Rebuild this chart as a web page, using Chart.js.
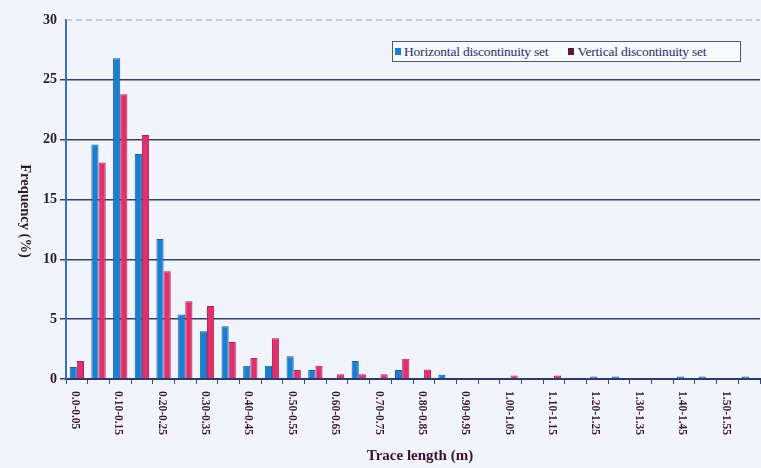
<!DOCTYPE html>
<html>
<head>
<meta charset="utf-8">
<script src="https://cdn.jsdelivr.net/npm/chart.js@4"></script>
<style>
  html, body { margin: 0; padding: 0; background: #f1f5fb; }
  #wrap { position: relative; width: 761px; height: 468px; }
  #legend {
    position: absolute; left: 392px; top: 41px; width: 347px; height: 19px;
    border: 1px solid #55556a; background: #f8fafe;
    font: 13.5px "Liberation Serif", serif; color: #2b2f6b;
    display: flex; align-items: center; white-space: nowrap; letter-spacing: -0.2px;
  }
  #legend span.box { display: inline-block; width: 6px; height: 7px; margin: 0 3px 0 2px; }
</style>
</head>
<body>
<div id="wrap">
  <canvas id="histChart" width="761" height="468"></canvas>
  <div id="legend">
    <span class="box" style="background:#1a7fd0"></span><span>Horizontal discontinuity set</span>
    <span class="box" style="background:#5a1a40;margin-left:20px"></span><span>Vertical discontinuity set</span>
  </div>
</div>
<script>
// Trace length classes (m)
const categories = [
  "0.0-0.05", "0.05-0.10", "0.10-0.15", "0.15-0.20", "0.20-0.25", "0.25-0.30",
  "0.30-0.35", "0.35-0.40", "0.40-0.45", "0.45-0.50", "0.50-0.55", "0.55-0.60",
  "0.60-0.65", "0.65-0.70", "0.70-0.75", "0.75-0.80", "0.80-0.85", "0.85-0.90",
  "0.90-0.95", "0.95-1.00", "1.00-1.05", "1.05-1.10", "1.10-1.15", "1.15-1.20",
  "1.20-1.25", "1.25-1.30", "1.30-1.35", "1.35-1.40", "1.40-1.45", "1.45-1.50",
  "1.50-1.55", "1.55-1.60"
];
// labels printed under the axis (every second class)
const tickLabels = [
  "0.0-0.05", "0.10-0.15", "0.20-0.25", "0.30-0.35", "0.40-0.45", "0.50-0.55",
  "0.60-0.65", "0.70-0.75", "0.80-0.85", "0.90-0.95", "1.00-1.05", "1.10-1.15",
  "1.20-1.25", "1.30-1.35", "1.40-1.45", "1.50-1.55"
];
const horizontal = [
  1.0, 19.6, 26.8, 18.8, 11.7, 5.4, 4.0, 4.4, 1.1, 1.1, 1.9, 0.75,
  0, 1.5, 0, 0.75, 0, 0.35, 0, 0, 0, 0, 0, 0,
  0.2, 0.2, 0, 0, 0.2, 0.2, 0, 0.2
];
const vertical = [
  1.5, 18.1, 23.8, 20.4, 9.0, 6.5, 6.1, 3.1, 1.75, 3.4, 0.75, 1.1,
  0.4, 0.4, 0.4, 1.7, 0.8, 0, 0, 0, 0.3, 0, 0.3, 0,
  0, 0, 0, 0, 0, 0, 0, 0
];
const yTicks = [0, 5, 10, 15, 20, 25, 30];

const serif = '"Liberation Serif", "DejaVu Serif", serif';

// custom labels: rotated clockwise, plus axis titles and dashed top line
const extras = {
  id: 'extras',
  afterDraw(chart) {
    const ctx = chart.ctx;
    const xs = chart.scales.x, ys = chart.scales.y;
    ctx.save();
    // dashed line at the top of the scale
    const yTop = ys.getPixelForValue(30);
    ctx.strokeStyle = '#7fa8e0';
    ctx.lineWidth = 1;
    ctx.setLineDash([6, 4]);
    ctx.beginPath();
    ctx.moveTo(xs.left, yTop);
    ctx.lineTo(xs.right, yTop);
    ctx.stroke();
    ctx.setLineDash([]);

    ctx.font = 'bold 11.5px ' + serif;
    ctx.fillStyle = '#3b1733';
    ctx.textAlign = 'left';
    ctx.textBaseline = 'middle';
    tickLabels.forEach(lab => {
      const i = categories.indexOf(lab);
      if (i < 0) return;
      const x = xs.getPixelForTick(i);
      ctx.save();
      ctx.translate(x - 2, xs.top + 12);
      ctx.rotate(Math.PI / 2);
      ctx.fillText(lab, 0, 0);
      ctx.restore();
    });

    // x title
    ctx.font = 'bold 15px ' + serif;
    ctx.fillStyle = '#3a1030';
    ctx.textAlign = 'center';
    ctx.fillText('Trace length (m)', 420, 456);

    // y title, also rotated clockwise
    ctx.save();
    ctx.translate(25, 211);
    ctx.rotate(Math.PI / 2);
    ctx.font = 'bold 14.5px ' + serif;
    ctx.fillStyle = '#2a1a2a';
    ctx.fillText('Frequency (%)', 0, 0);
    ctx.restore();
    ctx.restore();
  }
};

new Chart(document.getElementById('histChart').getContext('2d'), {
  type: 'bar',
  data: {
    labels: categories,
    datasets: [
      { label: 'Horizontal discontinuity set', data: horizontal,
        backgroundColor: '#1a7fd0', borderColor: '#1560a8', borderWidth: 1 },
      { label: 'Vertical discontinuity set', data: vertical,
        backgroundColor: '#e0306e', borderColor: '#b81f55', borderWidth: 1 }
    ]
  },
  options: {
    responsive: false,
    animation: false,
    layout: { padding: { top: 20, right: 1, left: 0, bottom: 0 } },
    plugins: { legend: { display: false }, tooltip: { enabled: false } },
    datasets: { bar: { categoryPercentage: 0.66, barPercentage: 1.0 } },
    scales: {
      x: {
        ticks: { display: false },
        grid: { drawOnChartArea: false, offset: true, tickLength: 5, color: '#3a4a80' },
        border: { color: '#2f3a6a', width: 2 },
        afterFit(scale) { scale.height = 89; }
      },
      y: {
        min: 0, max: 30,
        afterBuildTicks(scale) { scale.ticks = yTicks.map(v => ({ value: v })); },
        ticks: { font: { family: serif, size: 14, weight: 'bold' }, color: '#2a1a2a', padding: 3 },
        grid: {
          tickLength: 6,
          lineWidth: 1.5,
          color: c => (c.tick && c.tick.value === 30) ? 'rgba(0,0,0,0)' : '#34406a'
        },
        border: { color: '#3d6fc0', width: 2 },
        afterFit(scale) { scale.width = 66; }
      }
    }
  },
  plugins: [extras]
});
</script>
</body>
</html>
